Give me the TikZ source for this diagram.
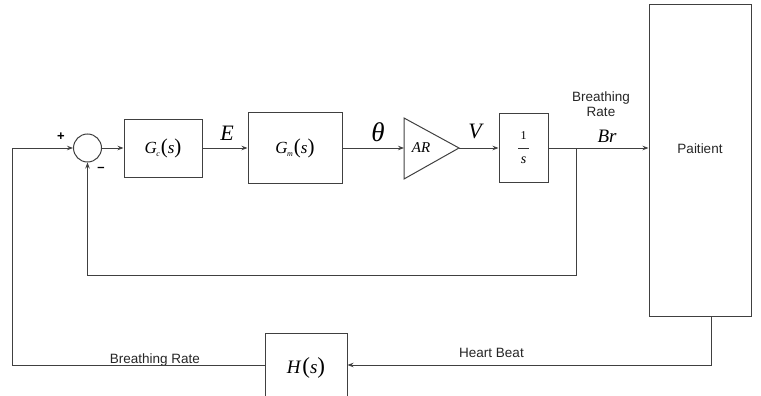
\documentclass[tikz,border=0pt]{standalone}
\usepackage{fontspec}
\setmainfont{Liberation Serif}
\newfontfamily\arialf{Liberation Sans}
\usetikzlibrary{arrows.meta}
\begin{document}
\begin{tikzpicture}[x=1pt,y=-1pt,
  ln/.style={draw=black!75,line width=1pt},
  arr/.style={ln,-{Stealth[length=6pt,width=4.5pt]}},
  blk/.style={draw=black!75,line width=1pt,minimum width=#1,inner sep=0pt},
  sig/.style={font=\fontsize{22}{24}\selectfont\itshape,inner sep=0pt},
  lbl/.style={font=\arialf\fontsize{13.5}{15}\selectfont,inner sep=0pt,text=black!85}]
\useasboundingbox (0,0) rectangle (761,396);
\clip (0,0) rectangle (761,396);
% blocks
\node[circle,draw=black!75,line width=1pt,minimum size=28pt,inner sep=0pt] (sum) at (87.5,148) {};
\node[blk=78pt,minimum height=58pt,font=\fontsize{17}{18}\selectfont] (gc) at (163,148) {\textit{G}\kern-0.5pt\raisebox{-3pt}{\fontsize{8}{8}\selectfont\itshape c}\kern1pt{\fontsize{21}{21}\selectfont(}\textit{s}{\fontsize{21}{21}\selectfont)}};
\node[blk=94pt,minimum height=70pt,font=\fontsize{17}{18}\selectfont] (gm) at (295,148) {\textit{G}\kern-0.5pt\raisebox{-3pt}{\fontsize{8}{8}\selectfont\itshape m}\kern1pt{\fontsize{21}{21}\selectfont(}\textit{s}{\fontsize{21}{21}\selectfont)}};
\coordinate (arin) at (404,148);
\coordinate (arout) at (459,148);
\draw[ln,line join=miter] (404,118) -- (459,148) -- (404,179) -- cycle;
\node[font=\fontsize{15}{16}\selectfont\itshape,inner sep=0pt] (ar) at (421,148) {AR};
\node[blk=49pt,minimum height=69pt] (int) at (523.5,148) {};
\node[font=\fontsize{12}{12}\selectfont,inner sep=0pt] (one) at (523.5,136) {1};
\draw[black!80,line width=0.6pt] (518,148) -- (529,148);
\node[font=\fontsize{14}{14}\selectfont\itshape,inner sep=0pt] (ess) at (523.5,160) {s};
\node[blk=102pt,minimum height=311pt] (pat) at (700,160.5) {};
\node[lbl] (pattxt) at (700,149) {Paitient};
\node[blk=82pt,minimum height=70pt,font=\fontsize{19}{20}\selectfont] (h) at (306,368) {\textit{H}\kern1pt{\fontsize{23}{23}\selectfont(}\textit{s}{\fontsize{23}{23}\selectfont)}};
% signal labels
\node[sig] (E) at (227,133) {E};
\node[sig,font=\fontsize{27}{28}\selectfont\itshape] (th) at (378,132) {θ};
\node[sig] (V) at (475,131) {V};
\node[sig,font=\fontsize{19}{20}\selectfont\itshape] (br) at (607,136) {Br};
\node[lbl,align=center] (brt) at (601,104) {Breathing\\Rate};
\node[lbl] (hb) at (491.5,353) {Heart Beat};
\node[lbl,anchor=base] (brl) at (155,363) {Breathing Rate};
\node[font=\arialf\bfseries\fontsize{13}{13}\selectfont,inner sep=0pt] (plus) at (61,137) {+};
\node[font=\arialf\bfseries\fontsize{13}{13}\selectfont,inner sep=0pt] (minus) at (101,169) {\textendash};
% connectors
\coordinate (ll) at (12,365);
\coordinate (lu) at (12,148);
\draw[arr] (h.west |- 0,365) -- (ll) -- (lu) -- (sum.west);
\draw[arr] (sum.east) -- (gc.west);
\draw[arr] (gc.east) -- (gm.west);
\draw[arr] (gm.east) -- (arin);
\draw[arr] (arout) -- (int.west);
\draw[arr] (int.east) -- (pat.west |- int.east);
\coordinate (tap) at (576,148);
\coordinate (tapd) at (576,275);
\coordinate (fbl) at (87.5,275);
\draw[arr] (tap) -- (tapd) -- (fbl) -- (sum.south);
\coordinate (pd) at (711,365);
\draw[arr] (pat.south -| pd) -- (pd) -- (h.east |- pd);
\end{tikzpicture}
\end{document}
